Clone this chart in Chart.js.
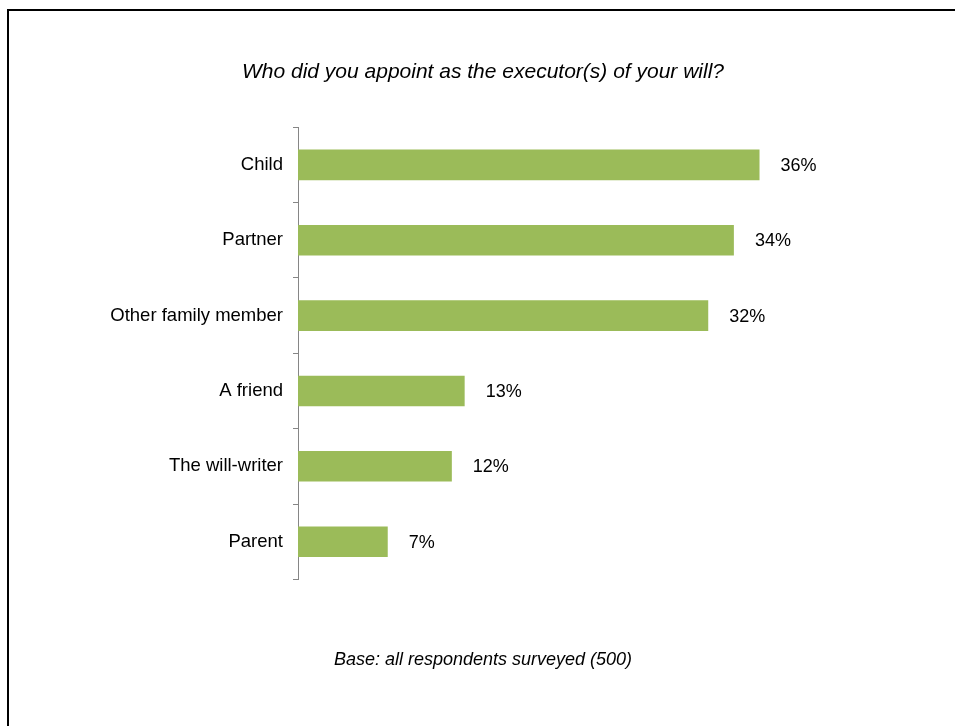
<!DOCTYPE html>
<html lang="en">
  <head>
    <meta charset="utf-8" />
    <title>Executors of will</title>
    <style>
      body { margin: 0; background: #fff; overflow: hidden; }
      #wrap { position: relative; width: 955px; height: 726px; }
      #frame {
        position: absolute; left: 7px; top: 9px; width: 1200px; height: 1000px;
        border-top: 2px solid #000; border-left: 2px solid #000; pointer-events: none;
      }
    </style>
  </head>
  <body>
    <div id="wrap">
      <canvas id="executorChart" width="955" height="726"></canvas>
      <div id="frame"></div>
    </div>
    <script src="https://cdn.jsdelivr.net/npm/chart.js@4.4.0/dist/chart.umd.min.js"></script>
    <script>
      const categories = ['Child', 'Partner', 'Other family member', 'A friend', 'The will-writer', 'Parent'];
      const shares = [36, 34, 32, 13, 12, 7];
      const titleText = 'Who did you appoint as the executor(s) of your will?';
      const baseText = 'Base: all respondents surveyed (500)';

      // draws "36%" etc. just right of each bar
      const valueLabels = {
        id: 'valueLabels',
        afterDatasetsDraw(chart) {
          const ctx = chart.ctx;
          const meta = chart.getDatasetMeta(0);
          ctx.save();
          ctx.font = '18px "Liberation Sans", Arial, sans-serif';
          ctx.fillStyle = '#000';
          ctx.textAlign = 'left';
          ctx.textBaseline = 'middle';
          meta.data.forEach((bar, i) => {
            ctx.fillText(shares[i] + '%', bar.x + 21, bar.y + 1);
          });
          ctx.restore();
        },
      };

      Chart.defaults.font.family = '"Liberation Sans", Arial, sans-serif';
      Chart.defaults.color = '#000';

      new Chart(document.getElementById('executorChart'), {
        type: 'bar',
        data: {
          labels: categories,
          datasets: [
            {
              data: shares,
              backgroundColor: '#9BBB59',
              barPercentage: 0.405,
              categoryPercentage: 1,
            },
          ],
        },
        options: {
          indexAxis: 'y',
          responsive: false,
          animation: false,
          layout: { padding: { left: 27, right: 16, top: 0, bottom: 0 } },
          plugins: {
            legend: { display: false },
            tooltip: { enabled: false },
            title: {
              display: true,
              text: titleText,
              font: { size: 21, style: 'italic', weight: 'normal' },
              padding: { top: 60, bottom: 42 },
            },
            subtitle: {
              display: true,
              position: 'bottom',
              text: baseText,
              font: { size: 18, style: 'italic', weight: 'normal' },
              padding: { top: 70, bottom: 55 },
            },
          },
          scales: {
            x: { display: false, min: 0, max: 50 },
            y: {
              afterFit(scale) { scale.width = 298 - 27; },
              grid: {
                drawOnChartArea: false,
                tickLength: 5,
                color: '#868686',
              },
              border: { color: '#868686', width: 1 },
              ticks: { padding: 10, font: { size: 18.5 } },
            },
          },
        },
        plugins: [valueLabels],
      });
    </script>
  </body>
</html>
